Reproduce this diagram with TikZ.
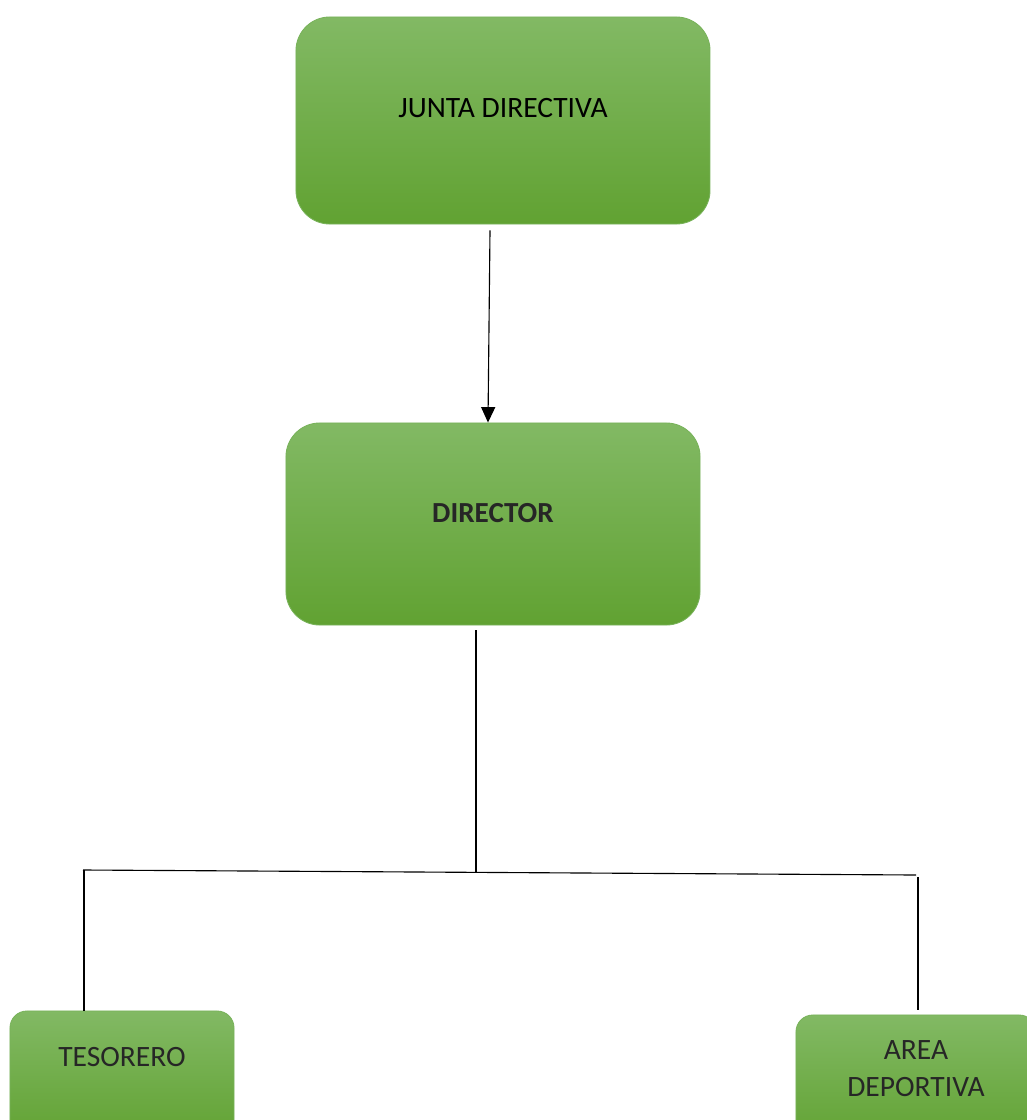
\documentclass[tikz,border=0pt]{standalone}
\usepackage{fontspec}
\setmainfont{Carlito}
\usetikzlibrary{calc}
\usetikzlibrary{arrows.meta}

\definecolor{boxtop}{HTML}{82B964}
\definecolor{boxbot}{HTML}{61A232}
\definecolor{boxline}{HTML}{78B25A}
\definecolor{ink}{HTML}{262626}

\tikzset{
  cargo/.style={draw=boxline, line width=0.6pt, top color=boxtop, bottom color=boxbot, rounded corners=24pt, inner sep=0pt},
  subcargo/.style={cargo, rounded corners=12pt},
  rotulo/.style={text=ink, font=\fontsize{21}{26.3}\selectfont, align=center},
  enlace/.style={black, line width=0.8pt}
}

\begin{document}
\begin{tikzpicture} [x=0.025cm, y=-0.025cm]
\useasboundingbox (0,0) rectangle (1027,1120);

% cajas
\node[cargo, minimum width=10.35cm, minimum height=5.175cm, label={[rotulo, yshift=0.31cm, text=black]center:JUNTA DIRECTIVA}] (junta) at (503,120.5) {};
\node[cargo, minimum width=10.35cm, minimum height=5.05cm, label={[rotulo, yshift=0.275cm, font=\fontsize{20.7}{26.3}\selectfont\bfseries]center:DIRECTOR}] (director) at (493,524) {};
\node[subcargo, minimum width=5.6cm, minimum height=3.25cm, label={[rotulo, yshift=0.475cm]center:TESORERO}] (tesorero) at (122,1076) {};
\node[subcargo, minimum width=6cm, minimum height=3.25cm, label={[rotulo, yshift=0.29cm]center:AREA\\DEPORTIVA}] (area) at (916,1080) {};

% lineas
\coordinate (busL) at (83,870);
\coordinate (busR) at (916,875);
\coordinate (busM) at (476,872);

\draw[enlace, -{Triangle[length=11pt, width=10pt]}] ($(junta.south)+(-13,6)$) -- ($(director.north)+(-5,0)$);
\draw[enlace] ($(director.south)+(-17,5)$) -- (busM);
\draw[enlace] (busL) -- (busR);
\draw[enlace] ($(busL)+(1,0)$) -- ($(tesorero.north)+(-38,0)$);
\draw[enlace] ($(busR)+(2,2)$) -- ($(area.north)+(2,-5)$);
\end{tikzpicture}
\end{document}
